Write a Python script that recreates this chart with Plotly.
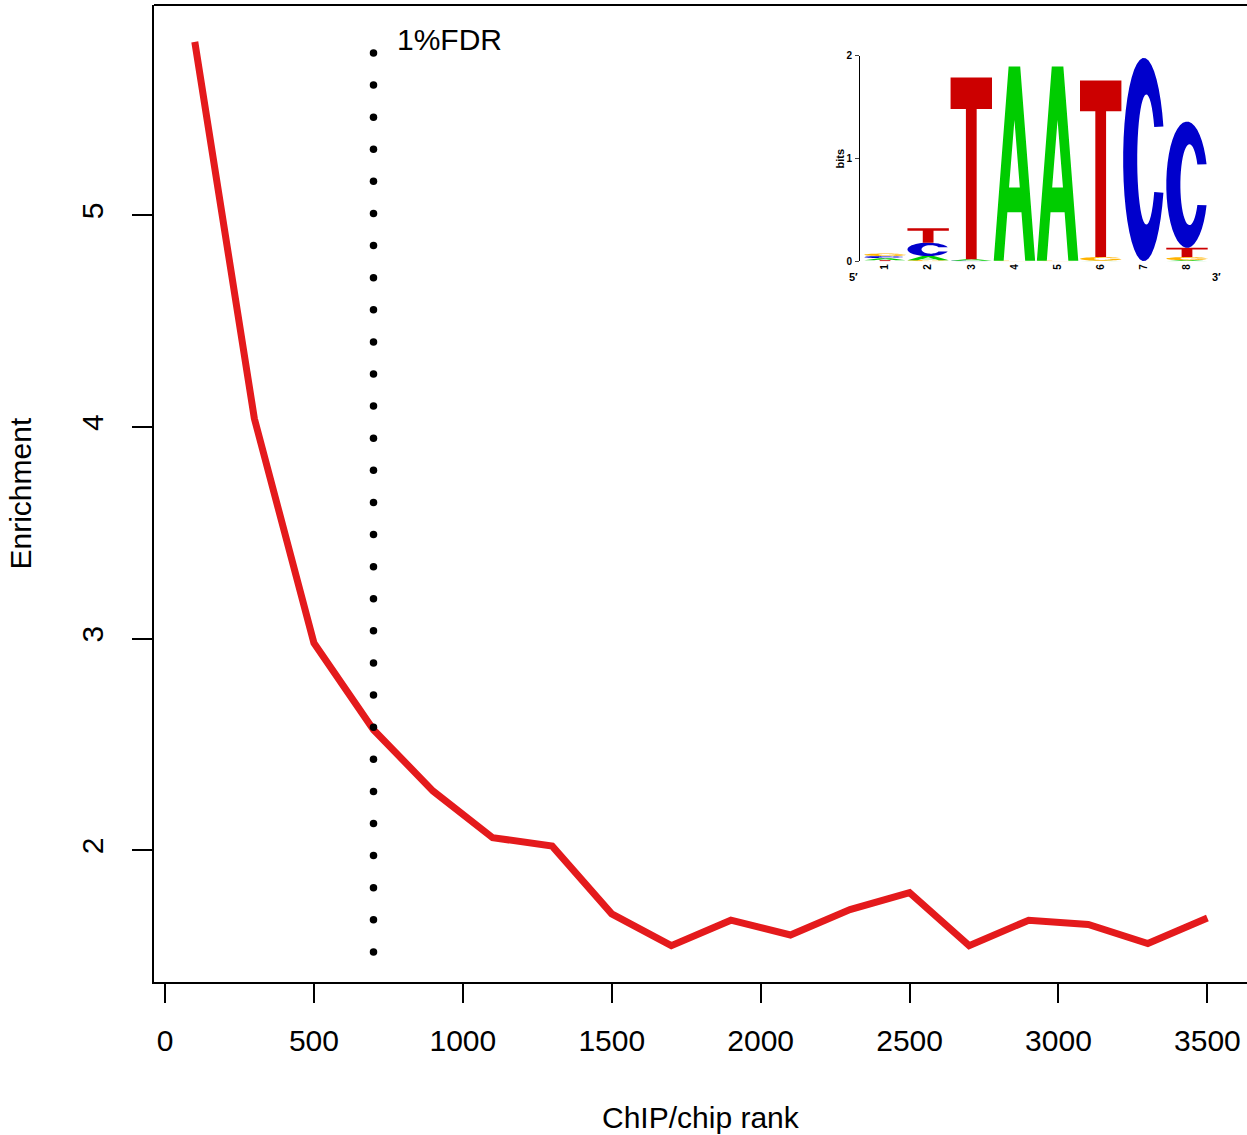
import numpy as np
import plotly.graph_objects as go

# ---------------- data ----------------
rank = [100, 300, 500, 700, 900, 1100, 1300, 1500, 1700, 1900, 2100, 2300,
        2500, 2700, 2900, 3100, 3300, 3500]
enrichment = [5.82, 4.04, 2.98, 2.57, 2.28, 2.06, 2.02, 1.70, 1.55, 1.67,
              1.60, 1.72, 1.80, 1.55, 1.67, 1.65, 1.56, 1.68]
fdr_rank = 700
fdr_label = "1%FDR"
x_ticks = [0, 500, 1000, 1500, 2000, 2500, 3000, 3500]
y_ticks = [2, 3, 4, 5]

# sequence logo (bits per nucleotide at each position)
logo_pos = [1, 2, 3, 4, 5, 6, 7, 8]
bits_A = [0.02, 0.04, 0.015, 1.89, 1.89, 0.005, 0.0, 0.01]
bits_C = [0.02, 0.13, 0.005, 0.0, 0.0, 0.0, 1.98, 1.23]
bits_G = [0.025, 0.01, 0.0, 0.005, 0.005, 0.035, 0.0, 0.03]
bits_T = [0.01, 0.14, 1.77, 0.0, 0.0, 1.72, 0.0, 0.09]
logo_yticks = [0, 1, 2]

# ---------------- styling ----------------
FONT = "Liberation Sans, Arial, Helvetica, sans-serif"
RED = "#E41A1C"
letter_colors = {"A": "#00CC00", "C": "#0000CC", "G": "#FFB300", "T": "#CC0000"}


def ellipse_pts(cx, cy, rx, ry, a0, a1, n=40):
    t = np.radians(np.linspace(a0, a1, n))
    return [(cx + rx * np.cos(a), cy + ry * np.sin(a)) for a in t]


# glyph outlines in unit box (u right, v up)
GLYPHS = {
    "T": [[(0, 1), (1, 1), (1, 0.826), (0.63, 0.826), (0.63, 0), (0.37, 0),
           (0.37, 0.826), (0, 0.826)]],
    "A": [[(0, 0), (0.36, 1), (0.64, 1), (1, 0), (0.76, 0), (0.67, 0.25),
           (0.33, 0.25), (0.24, 0)],
          [(0.63, 0.377), (0.5, 0.725), (0.37, 0.377)]],
    "C": [ellipse_pts(0.5, 0.5, 0.5, 0.5, 19, 341)
          + ellipse_pts(0.56, 0.5, 0.22, 0.32, 330, 30)],
    "G": [ellipse_pts(0.5, 0.5, 0.5, 0.5, 19, 360)
          + [(1.0, 0.5), (0.6, 0.5), (0.6, 0.38), (0.77, 0.38)]
          + ellipse_pts(0.56, 0.5, 0.22, 0.32, 330, 30)],
}


def glyph_path(letter, xc, y0, h, w=0.96):
    parts = []
    for poly in GLYPHS[letter]:
        pts = [(xc - w / 2 + u * w, y0 + v * h) for u, v in poly]
        s = "M " + " L ".join(f"{x:.4f},{y:.5f}" for x, y in pts) + " Z"
        parts.append(s)
    return " ".join(parts)


fig = go.Figure()

# main enrichment curve
fig.add_trace(go.Scatter(x=rank, y=enrichment, mode="lines",
                         line=dict(color=RED, width=7), hoverinfo="skip",
                         showlegend=False))

# dotted FDR line (dot pattern along the vertical line)
dot_y = np.arange(1.52, 5.80, 0.1517)
fig.add_trace(go.Scatter(x=[fdr_rank] * len(dot_y), y=dot_y, mode="markers",
                         marker=dict(color="black", size=7.5), hoverinfo="skip",
                         showlegend=False))

fig.add_annotation(x=fdr_rank + 72, y=5.829, text=fdr_label, showarrow=False,
                   xanchor="left", yanchor="middle",
                   font=dict(family=FONT, size=30, color="black"))

# ---------------- logo inset ----------------
shapes = []
letters = {"A": bits_A, "C": bits_C, "G": bits_G, "T": bits_T}
for i, p in enumerate(logo_pos):
    col = sorted([(letters[L][i], L) for L in "ACGT"], key=lambda t: t[0])
    y0 = 0.0
    for h, L in col:
        if h > 0:
            shapes.append(dict(type="path", xref="x2", yref="y2",
                               path=glyph_path(L, p, y0, h),
                               fillcolor=letter_colors[L], line=dict(width=0),
                               layer="above"))
        y0 += h

# top border of the main box
shapes.append(dict(type="line", xref="paper", yref="paper", x0=0, x1=1,
                   y0=1, y1=1, line=dict(color="black", width=2)))

# invisible trace to activate inset axes
fig.add_trace(go.Scatter(x=[logo_pos[0]], y=[0], xaxis="x2", yaxis="y2",
                         mode="markers", marker=dict(opacity=0),
                         hoverinfo="skip", showlegend=False))

H = 1135
W = 1247
L_M, R_M, T_M, B_M = 154, 0, 2, 153
pw = W - L_M - R_M
ph = H - T_M - B_M


def px_x(p):
    return (p - L_M) / pw


def px_y(p):
    return (H - B_M - p) / ph


fig.update_layout(
    width=W, height=H,
    margin=dict(l=L_M, r=R_M, t=T_M, b=B_M),
    paper_bgcolor="white", plot_bgcolor="white",
    font=dict(family=FONT, size=30, color="black"),
    shapes=shapes,
    hovermode=False,
    xaxis=dict(range=[-37, 3633], tickvals=x_ticks, ticks="outside",
               ticklen=19, tickwidth=2, tickcolor="black", showline=True,
               linewidth=2, linecolor="black", showgrid=False, zeroline=False,
               tickfont=dict(size=30), ticklabelstandoff=12),
    yaxis=dict(range=[1.378, 5.994], tickvals=y_ticks, ticks="outside",
               ticklen=20, tickwidth=2, tickcolor="black", showline=True,
               linewidth=2, linecolor="black", showgrid=False, zeroline=False,
               tickangle=-90, tickfont=dict(size=30), ticklabelstandoff=17),
    xaxis2=dict(domain=[px_x(860), px_x(1213)], range=[0.4205, 8.603],
                anchor="y2", tickvals=logo_pos, ticks="", showline=False,
                showgrid=False, zeroline=False, tickangle=-90,
                tickfont=dict(size=10, weight="bold"), ticklabelstandoff=0),
    yaxis2=dict(domain=[px_y(259), px_y(53)], range=[0, 2], anchor="x2",
                tickvals=logo_yticks, ticks="outside", ticklen=4, tickwidth=1,
                showline=True, linewidth=1, linecolor="black", showgrid=False,
                zeroline=False, tickfont=dict(size=10, weight="bold"),
                ticklabelstandoff=1),
)

# axis titles
fig.add_annotation(xref="paper", yref="paper", x=0.5, y=px_y(1118),
                   text="ChIP/chip rank", showarrow=False, xanchor="center",
                   yanchor="middle", font=dict(size=30))
fig.add_annotation(xref="paper", yref="paper", x=px_x(20), y=px_y(492),
                   text="Enrichment", showarrow=False, textangle=-90,
                   xanchor="center", yanchor="middle", font=dict(size=30))

# logo labels
fig.add_annotation(xref="paper", yref="paper", x=px_x(840), y=px_y(156),
                   text="bits", showarrow=False, textangle=-90,
                   xanchor="center", yanchor="middle",
                   font=dict(size=11, weight="bold"))
fig.add_annotation(xref="paper", yref="paper", x=px_x(853), y=px_y(275),
                   text="5′", showarrow=False, xanchor="center",
                   yanchor="middle", font=dict(size=11, weight="bold"))
fig.add_annotation(xref="paper", yref="paper", x=px_x(1216), y=px_y(275),
                   text="3′", showarrow=False, xanchor="center",
                   yanchor="middle", font=dict(size=11, weight="bold"))

fig.write_html(
    "out.html",
    config={"displayModeBar": False},
    post_script="document.body.style.margin='0';"
                "document.body.style.overflow='hidden';",
)
